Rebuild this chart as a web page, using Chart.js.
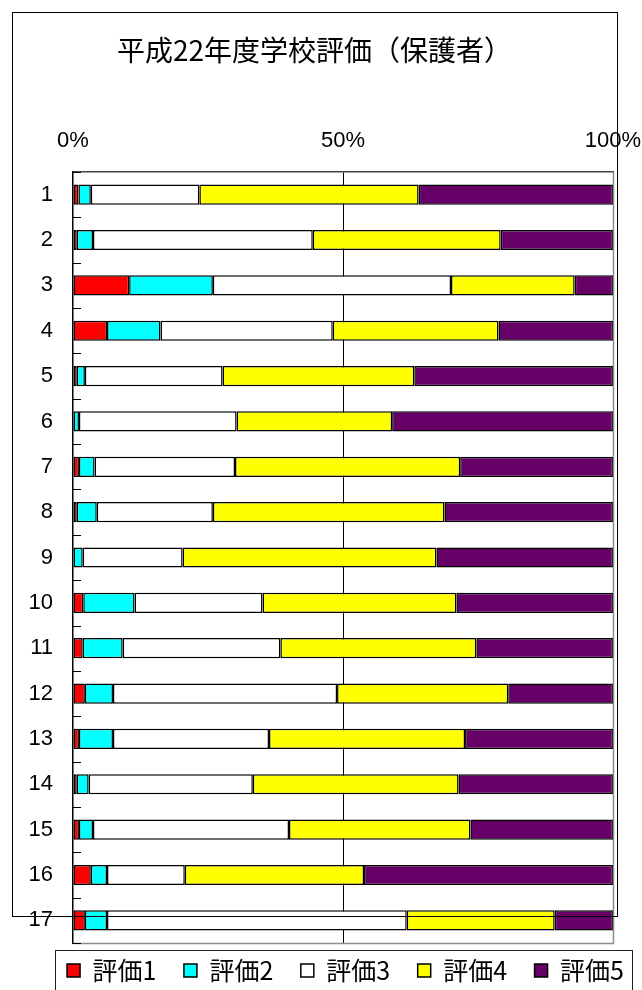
<!DOCTYPE html>
<html><head><meta charset="utf-8">
<script src="https://cdn.jsdelivr.net/npm/chart.js@4.4.1/dist/chart.umd.min.js"></script>
<style>html,body{margin:0;padding:0;background:#fff;}canvas{display:block;}</style>
</head><body>
<canvas id="c" width="642" height="990"></canvas>
<script>
const chartTitle = '平成22年度学校評価（保護者）';
const categories = ['1','2','3','4','5','6','7','8','9','10','11','12','13','14','15','16','17'];
const seriesNames = ['評価1','評価2','評価3','評価4','評価5'];
const hyouka1 = [1.0,0.7,10.4,6.3,0.7,0,1.1,0.7,0,1.9,1.8,2.2,1.1,0.7,1.1,3.3,2.2];
const hyouka2 = [2.3,3.0,15.5,9.9,1.5,1.1,2.9,3.7,1.8,9.5,7.4,5.2,6.3,2.2,2.6,3.0,4.1];
const hyouka3 = [20.1,40.7,44.1,31.9,25.5,29.2,26.0,21.5,18.5,23.7,29.2,41.5,28.9,30.4,36.3,14.4,55.5];
const hyouka4 = [40.6,34.8,22.9,30.7,35.5,28.8,41.7,42.9,47.0,35.9,36.3,31.7,36.3,38.1,33.6,33.2,27.4];
const hyouka5 = [36.0,20.8,7.1,21.2,36.8,40.9,28.3,31.2,32.7,29.0,25.3,19.4,27.4,28.6,26.4,46.1,10.8];
const xTickValues = [0, 50, 100];

const seriesValues = [hyouka1, hyouka2, hyouka3, hyouka4, hyouka5];
const seriesColors = ['#FF0000', '#00FFFF', '#FFFFFF', '#FFFF00', '#660066'];

const layoutFix = {
  id: 'layoutFix',
  afterLayout(chart) {
    const t = chart.titleBlock;
    if (t) { const d = 314.5 - (t.left + t.right) / 2; t.left += d; t.right += d; }
    const l = chart.legend;
    if (l) {
      const d = 345.5 - (l.left + l.right) / 2; l.left += d; l.right += d;
      const dy = 930.5 - l.top; l.top += dy; l.bottom += dy;
    }
  }
};

const decor = {
  id: 'decor',
  beforeDraw(chart) {
    const c = chart.ctx;
    c.save(); c.fillStyle = '#fff'; c.fillRect(0, 0, chart.width, chart.height); c.restore();
  },
  afterDraw(chart) {
    const c = chart.ctx, a = chart.chartArea;
    c.save();
    c.strokeStyle = '#8c8c8c'; c.lineWidth = 1.5;
    c.beginPath();
    c.moveTo(a.right + 0.5, a.top); c.lineTo(a.right + 0.5, a.bottom + 0.5);
    c.lineTo(a.left, a.bottom + 0.5);
    c.stroke();
    c.strokeStyle = '#000'; c.lineWidth = 1;
    const n = categories.length, h = (a.bottom - a.top) / n;
    c.beginPath();
    for (let k = 0; k <= n; k++) {
      const y = Math.round(a.top + k * h) + 0.5;
      c.moveTo(a.left, y); c.lineTo(a.left + 8, y);
    }
    c.stroke();
    c.strokeStyle = '#000'; c.lineWidth = 1;
    c.strokeRect(12.5, 12.5, 605, 904);
    c.strokeStyle = '#222';
    c.strokeRect(55.5, 950.5, 577, 60);
    c.restore();
  }
};

new Chart(document.getElementById('c'), {
  type: 'bar',
  data: {
    labels: categories,
    datasets: seriesNames.map((name, i) => ({
      label: name,
      data: seriesValues[i],
      backgroundColor: seriesColors[i],
      borderColor: '#000',
      borderWidth: 1.5,
      borderSkipped: false,
      barPercentage: 0.445,
      categoryPercentage: 1.0
    }))
  },
  options: {
    indexAxis: 'y',
    responsive: false,
    animation: false,
    layout: { padding: { top: 0, left: 0, right: 0, bottom: -15.5 } },
    scales: {
      x: {
        position: 'top',
        stacked: true,
        min: 0, max: 100,
        afterBuildTicks(scale) { scale.ticks = xTickValues.map(v => ({ value: v })); },
        afterFit(scale) { scale.height = 95.2; scale.paddingLeft = 0; scale.paddingRight = 29; },
        ticks: {
          padding: 17.8,
          color: '#000',
          font: { family: "'Liberation Sans', Arial, sans-serif", size: 22 },
          callback: v => v + '%'
        },
        grid: {
          drawTicks: false,
          color: ctx => ctx.tick && ctx.tick.value === 50 ? '#000' : (ctx.tick && ctx.tick.value === 100 ? '#8c8c8c' : 'rgba(0,0,0,0)'),
          lineWidth: 1
        },
        border: { display: true, color: '#444', width: 1.5 }
      },
      y: {
        stacked: true,
        afterFit(scale) { scale.width = 73; scale.paddingTop = 0; scale.paddingBottom = 0; },
        ticks: {
          padding: 20,
          color: '#000',
          font: { family: "'Liberation Sans', Arial, sans-serif", size: 22 }
        },
        grid: { display: false, drawTicks: false },
        border: { display: true, color: '#000', width: 1.5 }
      }
    },
    plugins: {
      title: {
        display: true,
        text: chartTitle,
        color: '#000',
        font: { family: "'Noto Sans CJK JP', sans-serif", size: 28, weight: 'normal' },
        padding: { top: 33.2, bottom: 10 }
      },
      legend: {
        display: true,
        position: 'bottom',
        labels: {
          color: '#000',
          font: { family: "'Noto Sans CJK JP', sans-serif", size: 25 },
          boxWidth: 13,
          boxHeight: 13,
          padding: 27.5
        }
      },
      tooltip: { enabled: false }
    }
  },
  plugins: [layoutFix, decor]
});
</script>
</body></html>
